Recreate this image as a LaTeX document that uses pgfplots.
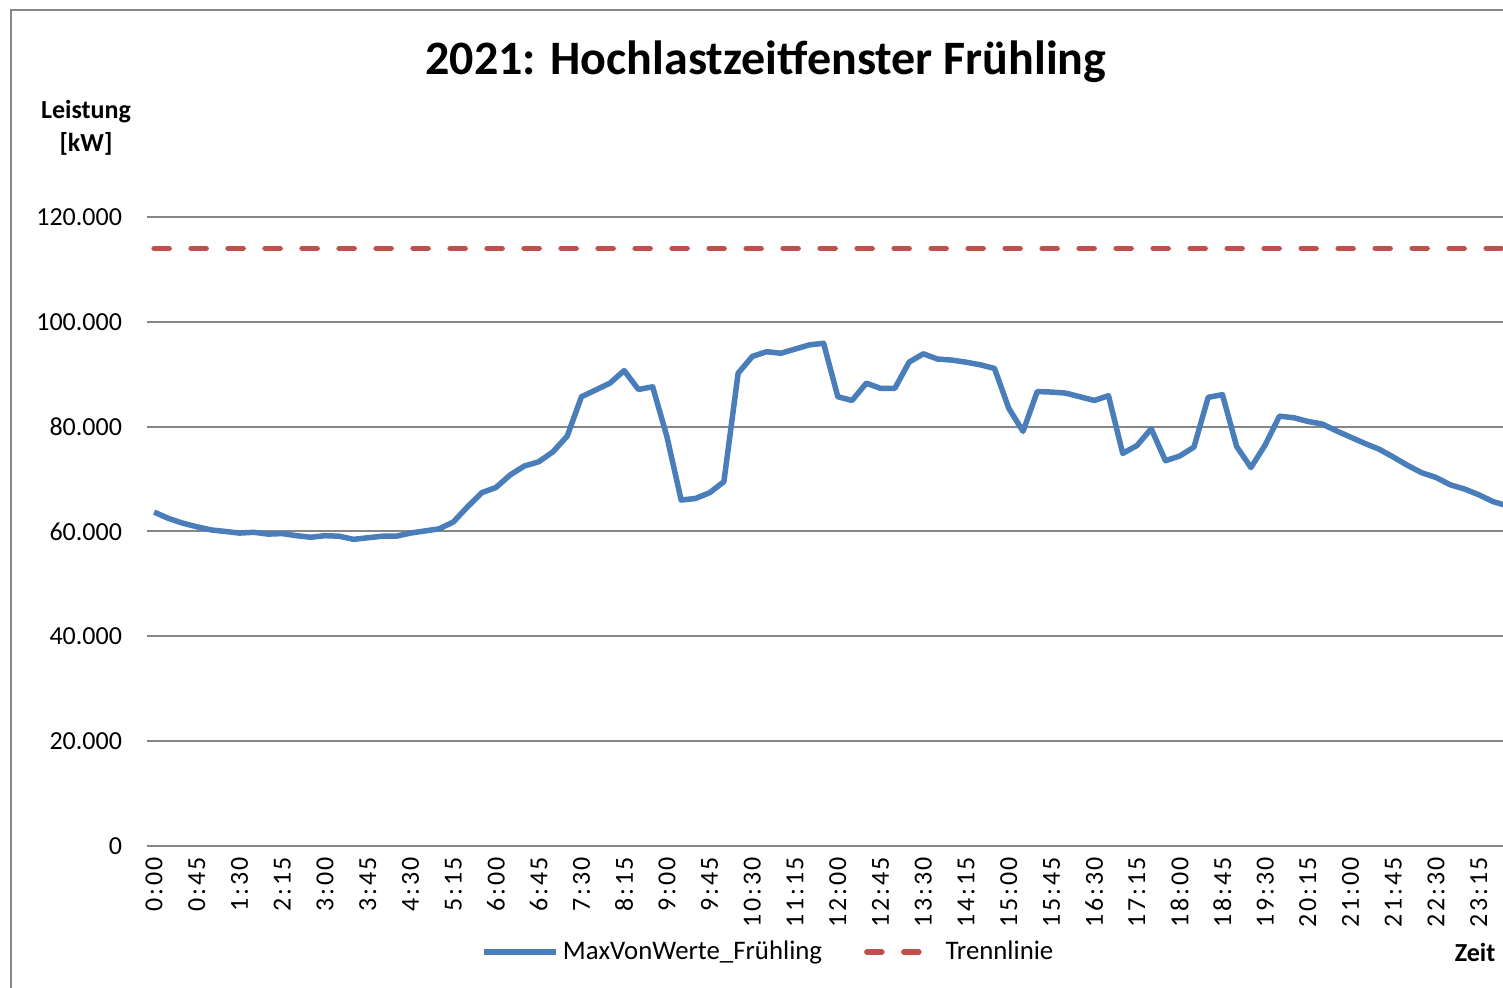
\documentclass[border=0pt]{standalone}
\usepackage{pgfplots}
\pgfplotsset{compat=1.18}
\usepackage{fontspec}
\setmainfont{Carlito}
\newfontfamily\spaced[LetterSpace=10]{Carlito}
\definecolor{blueline}{RGB}{74,126,187}
\definecolor{redline}{RGB}{192,80,77}
\definecolor{gridgray}{RGB}{134,134,134}
\newcommand{\tf}{\fontsize{13bp}{15bp}\selectfont}
\begin{document}
\begin{tikzpicture}[x=0.5bp,y=0.5bp]
\path[use as bounding box] (0,0) rectangle (1503,987);
\coordinate (A) at (147,141);
\draw[gridgray, line width=1bp] (11,-20) -- (11,977) -- (1530,977);
\node[font=\bfseries\fontsize{24bp}{28bp}\selectfont] at (766,925) {2021: Hochlastzeitfenster Frühling};
\node[font=\bfseries\tf, align=center] at (86,859) {Leistung\\[1.5bp][kW]};
\node[font=\bfseries\tf] at (1475,35) {Zeit};
\begin{axis}[
  at={(A)}, anchor=south west,
  scale only axis, width=678bp, height=314.5bp,
  xmin=-0.5, xmax=94.7, ymin=0, ymax=120000,
  axis line style={draw=none},
  major tick length=0pt,
  ymajorgrids, grid style={gridgray, line width=1bp},
  ytick={0,20000,...,120000},
  scaled y ticks=false,
  /pgf/number format/.cd, fixed, 1000 sep={.}, assume math mode=true,
  /pgfplots/.cd,
  yticklabel style={font=\tf, xshift=-9bp},
  xtick={0,3,...,93},
  xticklabels={0:00,0:45,1:30,2:15,3:00,3:45,4:30,5:15,6:00,6:45,7:30,8:15,9:00,9:45,10:30,11:15,12:00,12:45,13:30,14:15,15:00,15:45,16:30,17:15,18:00,18:45,19:30,20:15,21:00,21:45,22:30,23:15},
  xticklabel style={font=\spaced\tf, rotate=90, anchor=east, xshift=-2bp},
  legend columns=2,
  legend style={at={(0.459,-0.1685)}, anchor=center, draw=none, fill=none, font=\fontsize{13.4bp}{15bp}\selectfont,
    /tikz/every even column/.append style={column sep=19bp}},
  legend image code/.code={\draw[#1] (0bp,0bp) -- (36bp,0bp);},
]
\addplot[blueline, line width=2.75bp, line join=round] coordinates {
(0,63700)(1,62500)(2,61600)(3,60900)(4,60300)(5,60000)(6,59700)(7,59850)(8,59500)(9,59600)
(10,59200)(11,58900)(12,59200)(13,59100)(14,58500)(15,58800)(16,59100)(17,59100)(18,59700)(19,60100)
(20,60500)(21,61800)(22,64700)(23,67400)(24,68400)(25,70800)(26,72500)(27,73300)(28,75200)(29,78200)
(30,85700)(31,87000)(32,88300)(33,90700)(34,87100)(35,87600)(36,78100)(37,66000)(38,66300)(39,67400)
(40,69500)(41,90200)(42,93400)(43,94300)(44,94000)(45,94800)(46,95600)(47,95900)(48,85700)(49,85000)
(50,88300)(51,87300)(52,87300)(53,92300)(54,93900)(55,92900)(56,92700)(57,92300)(58,91800)(59,91100)
(60,83500)(61,79100)(62,86700)(63,86600)(64,86400)(65,85700)(66,85000)(67,85900)(68,74900)(69,76400)
(70,79600)(71,73500)(72,74400)(73,76100)(74,85600)(75,86100)(76,76200)(77,72200)(78,76500)(79,82000)
(80,81700)(81,81000)(82,80500)(83,79200)(84,78000)(85,76800)(86,75700)(87,74200)(88,72600)(89,71200)
(90,70300)(91,68900)(92,68100)(93,67000)(94,65700)(95,64900)
};
\addlegendentry{MaxVonWerte\_Frühling}
\addplot[redline, line width=2.75bp, line cap=round, dash pattern=on 7.5bp off 11bp] coordinates {
(0,114000)(95,114000)
};
\addlegendentry{Trennlinie}
\end{axis}
\end{tikzpicture}
\end{document}
